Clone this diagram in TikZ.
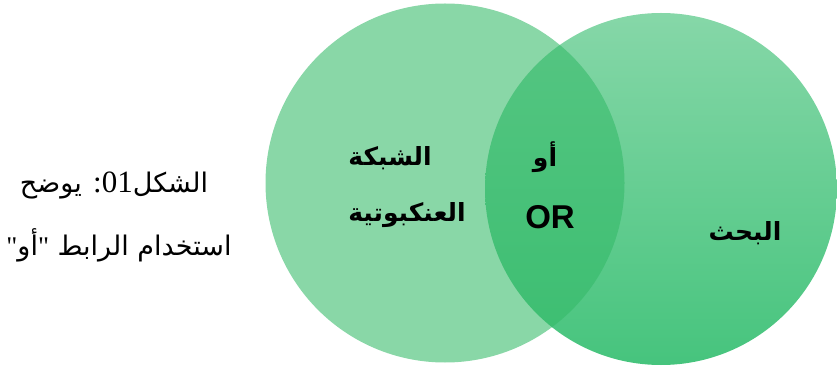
\documentclass[tikz,border=0pt]{standalone}
\usepackage{fontspec}
\TeXXeTstate=1
\newfontfamily\arb[Script=Arabic]{DejaVu Sans}
\newfontfamily\lser{Liberation Serif}
\newfontfamily\lsans{Liberation Sans}
\definecolor{rtop}{RGB}{134,215,168}
\definecolor{rbot}{RGB}{70,196,125}
\definecolor{lfill}{RGB}{52,186,104}
\tikzset{
  lbl/.style={font=\arb\bfseries\fontsize{25}{30}\selectfont, text=black, inner sep=0pt},
  captext/.style={font=\arb\fontsize{27}{30}\selectfont, text=black, inner sep=0pt}
}
\begin{document}
\begin{tikzpicture}[x=1pt,y=1pt]
\useasboundingbox (0,0) rectangle (837,367);
\shade[top color=rtop, bottom color=rbot] (661,178) circle (176pt);
\fill[lfill, fill opacity=0.58] (445,184) circle (179.5pt);
\node[lbl] (shabaka) at (390,209) {\beginR الشبكة\endR};
\node[lbl] (ankabut) at (407,152) {\beginR العنكبوتية\endR};
\node[lbl] (aw) at (545,210) {\beginR أو\endR};
\node[lbl, font=\lsans\bfseries\fontsize{33}{36}\selectfont] (or) at (550,150) {OR};
\node[lbl] (bahth) at (745,134) {\beginR البحث\endR};
\node[captext] (cap1) at (114,182) {\beginR الشكل\beginL{\lser\fontsize{31}{34}\selectfont 01}\endL{\lser\fontsize{31}{34}\selectfont :} يوضح\endR};
\node[captext] (cap2) at (119,122) {\beginR استخدام الرابط {\lser"}أو{\lser"}\endR};
\end{tikzpicture}
\end{document}
